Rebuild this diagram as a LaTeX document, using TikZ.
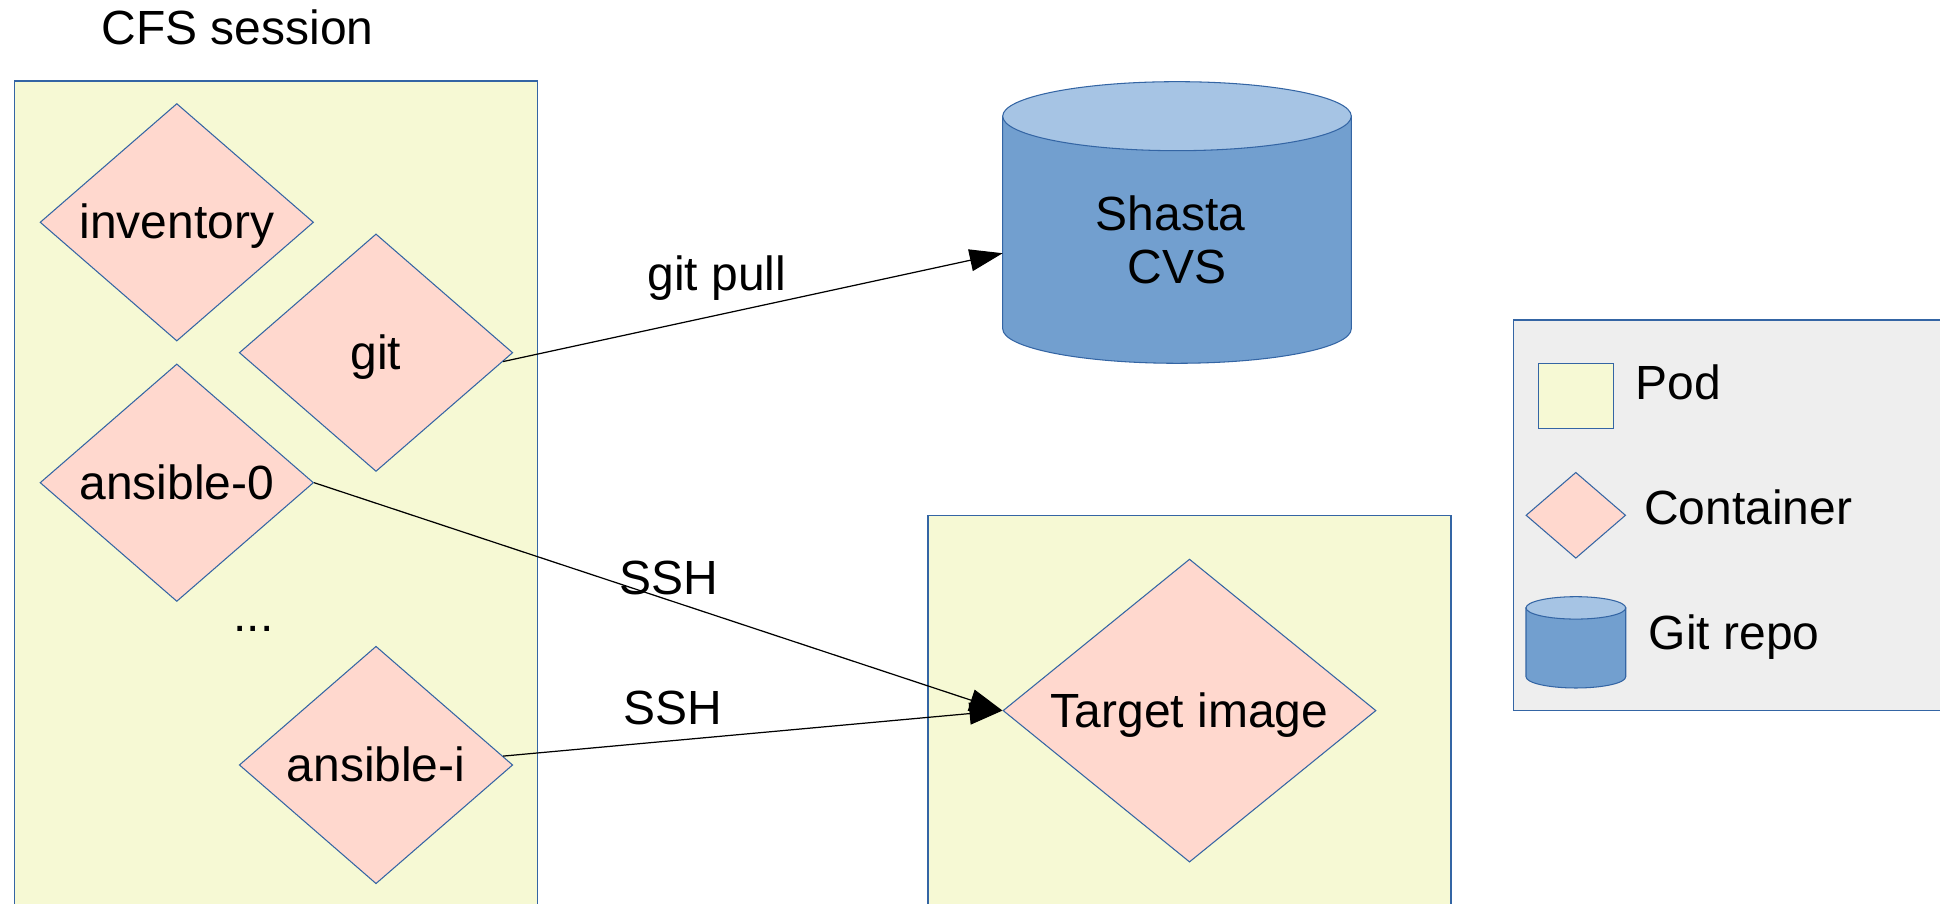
\documentclass[tikz,border=0pt]{standalone}
\usepackage{fontspec}
\setmainfont{Liberation Sans}
\usetikzlibrary{shapes.geometric,arrows.meta}

\definecolor{podfill}{HTML}{F6F9D4}
\definecolor{containerfill}{HTML}{FFD8CE}
\definecolor{edgeblue}{HTML}{3465A4}
\definecolor{repobody}{HTML}{729FCF}
\definecolor{repotop}{HTML}{A6C4E4}
\definecolor{keyfill}{HTML}{EEEEEE}

\newcommand*{\diagfont}{\fontsize{27.3}{30}\selectfont}

% can drawn round a node: #1 node, #2 x radius, #3 y radius of the ends
\newcommand*{\drawcan}[3]{%
	\filldraw[fill=repobody,draw=edgeblue,line width=0.6pt]
	  ([yshift=-#3]#1.north west) -- ([yshift=#3]#1.south west)
	  arc[start angle=180,end angle=360,x radius=#2,y radius=#3]
	  -- ([yshift=-#3]#1.north east) -- cycle;
	\filldraw[fill=repotop,draw=edgeblue,line width=0.6pt]
	  ([yshift=-#3]#1.north) ellipse[x radius=#2,y radius=#3];
}

\begin{document}
\begin{tikzpicture}
[
	font=\diagfont,
	podbox/.style={draw=edgeblue,fill=podfill,line width=0.6pt},
	container/.style={diamond,draw=edgeblue,fill=containerfill,line width=0.6pt,inner sep=0pt,text height=24.7pt,text depth=5.8pt},
	sessionctr/.style={container,minimum width=5.47cm,minimum height=4.75cm,shape aspect=1.152},
	canbox/.style={rectangle,inner sep=0pt,outer sep=0pt},
	link/.style={-{Triangle[length=0.66cm,width=0.44cm]},line width=0.7pt},
	txt/.style={inner sep=0pt}
]

	\useasboundingbox (0,0) rectangle (38.8,18.08);
	\clip (0,0) rectangle (38.8,18.08);

	% CFS session pod
	\draw[podbox] (0.294,16.46) rectangle (10.746,-1);
	\node[txt,anchor=base] (session) at (4.75,17.18) {CFS session};

	\node[sessionctr] (inventory) at (3.536,13.634) {inventory};
	\node[sessionctr] (git) at (7.52,11.026) {git};
	\node[sessionctr] (ansible0) at (3.536,8.426) {ansible-0};
	\node[txt,anchor=base] (dots) at (5.07,5.44) {...};
	\node[sessionctr] (ansiblei) at (7.52,2.78) {ansible-i};

	% image pod
	\draw[podbox] (18.56,7.774) rectangle (29.02,-1);
	\node[container,minimum width=7.46cm,minimum height=6.06cm,shape aspect=1.231] (target) at (23.79,3.868) {Target image};

	% repository
	\node[canbox,minimum width=6.972cm,minimum height=5.632cm] (cvs) at (23.54,13.63) {};
	\drawcan{cvs}{3.486cm}{0.69cm}
	\node[txt,align=center,anchor=base] (cvslabel) at (23.54,12.414) {Shasta\hspace*{0.278em}\\CVS};

	% legend
	\draw[draw=edgeblue,fill=keyfill,line width=0.6pt] (30.266,11.68) rectangle (40,3.874);
	\node[podbox,minimum width=1.5cm,minimum height=1.3cm] (podkey) at (31.516,10.164) {};
	\node[txt,anchor=base west] (podtext) at (32.71,10.094) {Pod};
	\node[container,minimum width=1.994cm,minimum height=1.72cm] (ctrkey) at (31.516,7.774) {};
	\node[txt,anchor=base west] (ctrtext) at (32.874,7.58) {Container};
	\node[canbox,minimum width=1.994cm,minimum height=1.826cm] (repokey) at (31.517,5.233) {};
	\drawcan{repokey}{0.997cm}{0.224cm}
	\node[txt,anchor=base west] (repotext) at (32.97,5.08) {Git repo};

	% connections
	\draw[link] (git.-4.7) -- (cvs.190.7);
	\draw[link] (ansible0.east) -- (target.west);
	\draw[link] (ansiblei.4.9) -- (target.west);

	\node[txt,anchor=base] (gitpull) at (14.34,12.26) {git pull};
	\node[txt,anchor=base] (ssh0) at (13.38,6.188) {SSH};
	\node[txt,anchor=base] (sshi) at (13.45,3.594) {SSH};

\end{tikzpicture}
\end{document}
